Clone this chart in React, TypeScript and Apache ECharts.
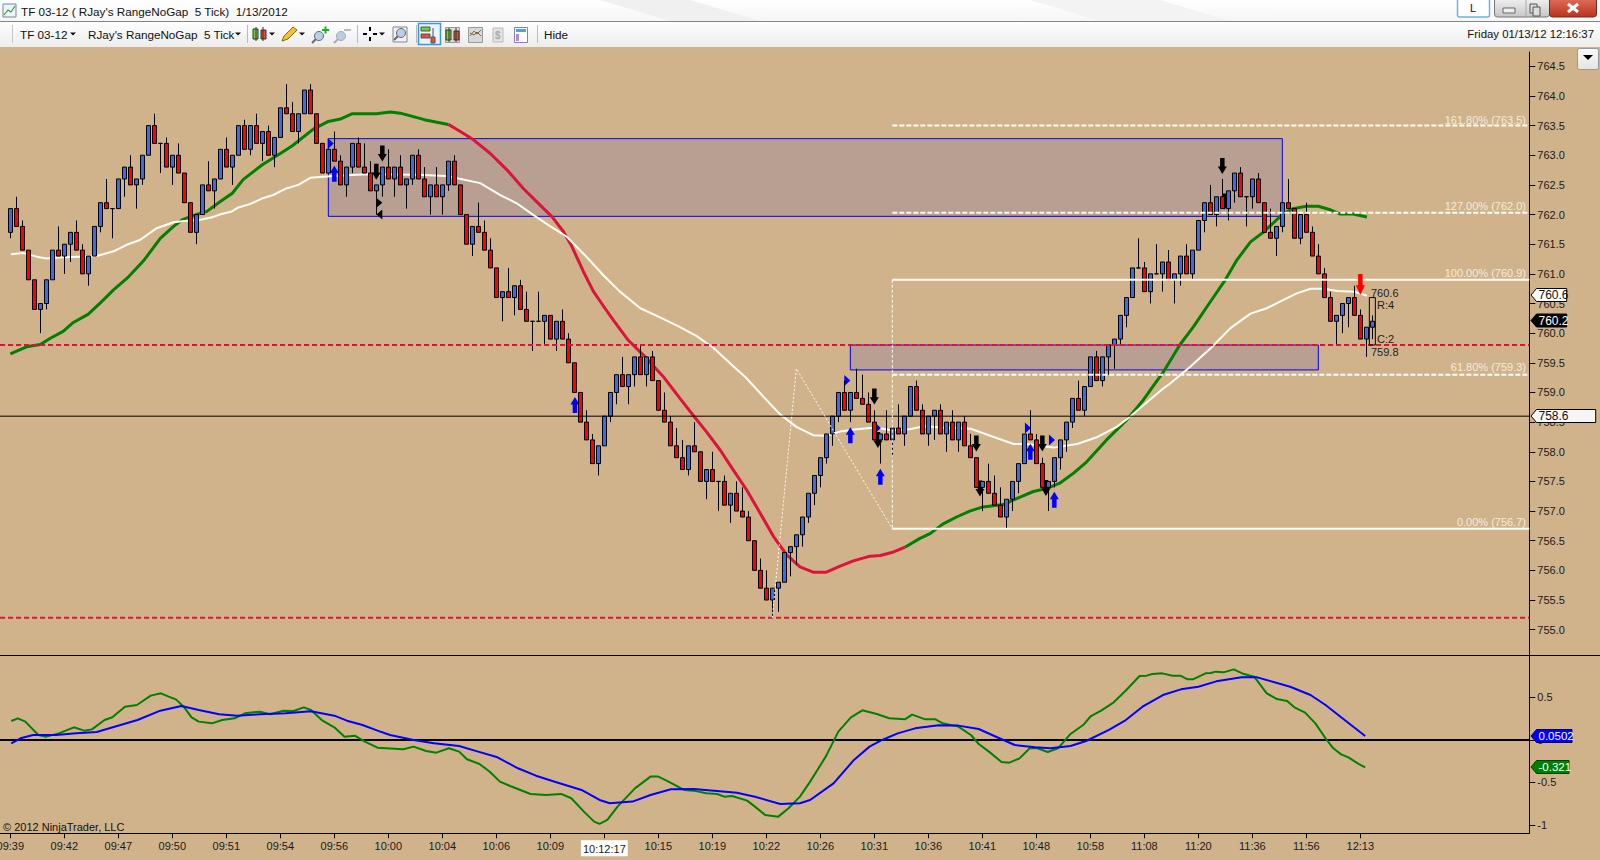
import React, { useEffect, useRef } from "react";
import * as echarts from "echarts";

const timeLabels = ["09:39","09:42","09:47","09:50","09:51","09:54","09:56","10:00","10:04","10:06","10:09","10:12:17","10:15","10:19","10:22","10:26","10:31","10:36","10:41","10:48","10:58","11:08","11:20","11:36","11:56","12:13"];
const priceTicks = [755,755.5,756,756.5,757,757.5,758,758.5,759,759.5,760,760.5,761,761.5,762,762.5,763,763.5,764,764.5];
const oscTicks = [-1,-0.5,0,0.5];

const opens = [761.7,762.1,761.8,761.4,760.9,760.4,760.5,760.9,761.4,761.3,761.5,761.7,761.4,761.0,761.3,761.8,762.2,762.1,762.1,762.6,
762.8,762.5,762.6,763.0,763.5,763.2,763.2,762.8,763.0,762.7,762.2,761.7,762.0,762.5,762.4,762.6,763.1,762.8,763.0,763.5,
763.1,763.5,763.2,763.4,763.0,763.3,763.8,763.7,763.4,763.7,764.1,763.7,763.2,762.7,763.1,762.9,762.5,762.8,763.2,762.8,
762.7,762.4,762.5,762.8,762.6,762.8,762.5,762.6,763.0,762.6,762.3,762.5,762.3,762.5,762.9,762.5,762.0,761.5,761.8,761.7,
761.4,761.1,760.6,760.7,760.6,760.8,760.4,760.2,760.2,760.2,760.3,759.9,760.2,759.9,759.5,759.0,758.5,758.2,757.8,758.1,
758.6,759.0,759.3,759.1,759.3,759.6,759.3,759.6,759.2,758.7,758.5,758.1,757.9,757.7,758.1,758.0,757.5,757.7,757.5,757.5,
757.1,757.3,757.0,756.9,756.5,756.0,755.7,755.5,755.7,755.8,756.3,756.4,756.6,756.9,757.3,757.6,757.9,758.3,758.6,759.0,
758.7,759.0,758.9,758.8,758.5,758.2,758.3,758.2,758.4,758.3,758.6,759.1,758.7,758.3,758.6,758.7,758.3,758.5,758.2,758.5,
758.1,757.9,757.4,757.5,757.3,757.1,756.9,757.2,757.5,757.8,758.3,758.2,757.8,757.4,757.5,757.9,758.2,758.5,758.9,758.7,
759.1,759.6,759.2,759.6,759.8,759.9,760.3,760.6,761.1,761.1,760.7,761.0,761.0,761.2,760.9,761.0,761.3,761.0,761.4,761.9,
762.2,762.0,762.3,762.1,762.4,762.7,762.3,762.3,762.6,762.2,761.7,761.6,761.8,762.2,762.1,761.6,762.0,761.7,761.3,761.0,
760.6,760.2,760.3,760.5,760.6,760.3,759.9,760.1];
const closes = [762.1,761.8,761.4,760.9,760.4,760.5,760.9,761.4,761.3,761.5,761.7,761.4,761.0,761.3,761.8,762.2,762.1,762.1,762.6,762.8,
762.5,762.6,763.0,763.5,763.2,763.2,762.8,763.0,762.7,762.2,761.7,762.0,762.5,762.4,762.6,763.1,762.8,763.0,763.5,763.1,
763.5,763.2,763.4,763.0,763.3,763.8,763.7,763.4,763.7,764.1,763.7,763.2,762.7,763.1,762.9,762.5,762.8,763.2,762.8,762.7,
762.4,762.5,762.8,762.6,762.8,762.5,762.6,763.0,762.6,762.3,762.5,762.3,762.5,762.9,762.5,762.0,761.5,761.8,761.7,761.4,
761.1,760.6,760.7,760.6,760.8,760.4,760.2,760.2,760.2,760.3,759.9,760.2,759.9,759.5,759.0,758.5,758.2,757.8,758.1,758.6,
759.0,759.3,759.1,759.3,759.6,759.3,759.6,759.2,758.7,758.5,758.1,757.9,757.7,758.1,758.0,757.5,757.7,757.5,757.5,757.1,
757.3,757.0,756.9,756.5,756.0,755.7,755.5,755.7,755.8,756.3,756.4,756.6,756.9,757.3,757.6,757.9,758.3,758.6,759.0,758.7,
759.0,758.9,758.8,758.5,758.2,758.3,758.2,758.4,758.3,758.6,759.1,758.7,758.3,758.6,758.7,758.3,758.5,758.2,758.5,758.1,
757.9,757.4,757.5,757.3,757.1,756.9,757.2,757.5,757.8,758.3,758.2,757.8,757.4,757.5,757.9,758.2,758.5,758.9,758.7,759.1,
759.6,759.2,759.6,759.8,759.9,760.3,760.6,761.1,761.1,760.7,761.0,761.0,761.2,760.9,761.0,761.3,761.0,761.4,761.9,762.2,
762.0,762.3,762.1,762.4,762.7,762.3,762.3,762.6,762.2,761.7,761.6,761.8,762.2,762.1,761.6,762.0,761.7,761.3,761.0,760.6,
760.2,760.3,760.5,760.6,760.3,759.9,760.1,760.2];
const lows = [761.6,761.8,761.4,760.9,760.4,760.0,760.4,760.9,761.3,761.0,761.2,761.4,761.0,760.8,761.3,761.7,762.1,761.6,762.1,762.3,
762.5,762.1,762.5,763.0,763.2,762.7,762.8,762.5,762.7,762.2,761.7,761.5,762.0,762.4,762.1,762.6,762.8,762.5,763.0,763.1,
763.0,763.2,762.9,763.0,762.8,763.3,763.7,763.4,763.2,763.7,763.7,763.2,762.7,762.7,762.9,762.5,762.3,762.7,762.8,762.7,
762.4,762.0,762.3,762.6,762.3,762.5,762.1,762.5,762.6,762.3,762.0,762.3,762.0,762.4,762.5,762.0,761.5,761.3,761.7,761.4,
761.1,760.6,760.2,760.6,760.3,760.4,760.2,759.7,760.2,759.8,759.9,759.7,759.9,759.5,759.0,758.5,758.2,757.8,757.6,758.1,
758.5,758.8,759.1,758.8,759.1,759.3,759.1,759.2,758.7,758.5,758.1,757.9,757.7,757.6,758.0,757.5,757.2,757.5,757.0,757.1,
756.8,757.0,756.9,756.5,756.0,755.7,755.5,755.2,755.3,755.8,755.9,756.1,756.4,756.8,757.1,757.4,757.8,758.1,758.5,758.7,
758.5,758.9,758.8,758.5,758.2,757.8,758.2,757.9,758.3,758.1,758.6,758.7,758.3,758.1,758.2,758.3,758.0,758.2,758.0,758.1,
757.9,757.4,757.0,757.3,757.1,756.9,756.7,757.0,757.3,757.8,758.2,757.8,757.4,757.0,757.4,757.7,758.0,758.4,758.7,758.6,
759.1,759.2,759.1,759.3,759.4,759.8,760.1,760.6,761.1,760.7,760.5,761.0,760.7,760.9,760.5,760.8,761.0,760.9,761.4,761.7,
762.0,761.8,762.1,761.9,762.2,762.3,761.8,762.1,762.2,761.7,761.6,761.3,761.7,762.1,761.6,761.5,761.7,761.3,761.0,760.6,
760.2,759.8,760.0,760.1,760.3,759.9,759.6,759.9];
const highs = [762.1,762.3,761.9,761.4,760.9,760.5,760.9,761.4,761.8,761.5,761.7,761.9,761.5,761.3,761.8,762.2,762.6,762.1,762.6,762.8,
763.0,762.6,763.0,763.5,763.7,763.2,763.3,763.0,763.2,762.7,762.2,762.0,762.5,762.9,762.6,763.1,763.3,763.0,763.5,763.6,
763.5,763.7,763.4,763.5,763.3,763.8,764.2,763.9,763.7,764.1,764.2,763.7,763.2,763.1,763.4,763.0,762.8,763.2,763.3,763.2,
762.9,762.5,762.8,763.1,762.8,763.0,762.6,763.0,763.1,762.8,762.5,762.8,762.5,762.9,763.0,762.5,762.0,761.8,762.2,761.9,
761.6,761.1,760.7,761.1,760.8,760.9,760.7,760.2,760.7,760.3,760.3,760.2,760.4,760.0,759.5,759.0,758.7,758.3,758.1,758.6,
759.0,759.3,759.6,759.3,759.6,759.8,759.6,759.7,759.2,759.0,758.6,758.4,758.2,758.1,758.5,758.0,757.7,758.0,757.5,757.6,
757.3,757.5,757.4,757.0,756.5,756.2,756.0,755.7,755.8,756.3,756.4,756.6,756.9,757.3,757.6,757.9,758.3,758.6,759.0,759.2,
759.0,759.4,759.3,759.0,758.7,758.3,758.7,758.4,758.8,758.6,759.1,759.2,758.8,758.6,758.7,758.8,758.5,758.7,758.5,758.6,
758.3,757.9,757.5,757.8,757.6,757.4,757.2,757.5,757.8,758.3,758.7,758.3,757.9,757.5,757.9,758.2,758.5,758.9,759.2,759.1,
759.6,759.7,759.6,759.8,759.9,760.3,760.6,761.1,761.6,761.2,761.0,761.5,761.2,761.4,761.0,761.3,761.5,761.4,761.9,762.2,
762.5,762.3,762.6,762.4,762.7,762.8,762.3,762.6,762.7,762.2,762.1,761.8,762.2,762.6,762.1,762.0,762.2,761.8,761.5,761.1,
760.7,760.3,760.5,760.6,760.8,760.4,760.1,760.3];

const maGreenLeft = [[0,759.65],[2.7,759.77],[5,759.81],[6.6,759.91],[8.8,760.03],[10.5,760.18],[13,760.32],[15,760.51],[17.2,760.73],[19.7,760.95],[22.2,761.22],[25,761.6],[27.2,761.8],[28.8,761.92],[31,762.0],[32.7,762.05],[35,762.22],[37,762.36],[38.8,762.59],[42,762.84],[45,763.03],[47,763.16],[50.5,763.44],[53,763.57],[55,763.61],[57,763.7],[61,763.7],[63.3,763.73],[65,763.71],[69,763.6],[73,763.52]];
const maCrimson = [[73,763.52],[75,763.4],[77.2,763.26],[80,763.03],[82.8,762.75],[85.5,762.44],[88.3,762.16],[90.3,761.96],[92.2,761.71],[93.6,761.46],[95.5,761.04],[97.2,760.7],[99.1,760.42],[100.5,760.22],[103,759.88],[105.5,759.63],[108.8,759.27],[111.6,758.9],[114,758.59],[116,758.34],[118.3,758.03],[120.5,757.69],[122.7,757.36],[125,756.96],[127.2,756.57],[129.4,756.26],[131.6,756.06],[133.8,755.97],[136,755.97],[138.3,756.07],[140.5,756.16],[143.3,756.24],[145,756.25],[147.2,756.31],[149.1,756.39]];
const maGreenRight = [[149.1,756.39],[151.6,756.54],[153.3,756.62],[155.4,756.78],[157.7,756.9],[159.9,757.0],[162.1,757.07],[165.5,757.11],[167.7,757.21],[170.5,757.33],[172.7,757.38],[174.9,757.47],[177.2,757.64],[179.4,757.83],[182.7,758.2],[186,758.53],[188.8,758.87],[192.2,759.35],[194.9,759.8],[197.2,760.11],[200,760.53],[202.5,760.9],[204.4,761.23],[206.7,761.54],[208.8,761.7],[212.2,762.02],[213.8,762.1],[216,762.14],[218,762.14],[220,762.08],[221.6,762.01],[223.8,762.01],[226.1,761.96]];
const maWhite = [[0.1,761.33],[2.2,761.35],[4.4,761.29],[6,761.26],[8.8,761.28],[11.6,761.29],[14.4,761.3],[17.2,761.38],[19.4,761.49],[21.6,761.57],[24.4,761.77],[27.2,761.87],[29,761.89],[31.6,761.91],[33.8,761.96],[35.2,762.01],[36.9,762.05],[38,762.12],[40,762.18],[42.2,762.28],[43.8,762.33],[46,762.44],[48,762.5],[50,762.62],[53.8,762.65],[59.4,762.68],[67.7,762.67],[72.7,762.65],[78.3,762.53],[81.6,762.33],[84.4,762.19],[87.2,761.99],[90,761.8],[92.7,761.63],[96,761.29],[98.8,760.98],[101.6,760.7],[105,760.42],[108,760.28],[111.3,760.12],[114.4,759.95],[117.2,759.75],[120,759.49],[122.7,759.24],[125.5,758.93],[128.3,758.63],[131,758.42],[133.8,758.28],[136,758.27],[138.3,758.34],[141,758.38],[144.3,758.41],[147,758.36],[149.9,758.38],[152.2,758.43],[155.5,758.41],[160,758.39],[163.9,758.25],[167.2,758.13],[169.4,758.13],[173.9,758.07],[177.8,758.13],[181.2,758.25],[184.4,758.42],[186.6,758.59],[188.9,758.79],[192.2,759.07],[193.3,759.15],[196.6,759.43],[200,759.74],[203.3,760.08],[206.7,760.33],[209.4,760.42],[212.2,760.56],[214.4,760.67],[216.7,760.75],[218.9,760.75],[221.2,760.71],[224,760.7],[226.1,760.63]];

const oscGreen = [[0.15,0.224],[1.26,0.255],[2.5,0.216],[4.66,0.059],[5.9,0.039],[8.06,0.078],[10.6,0.149],[12.3,0.11],[13.6,0.125],[15.7,0.235],[17,0.267],[19.1,0.392],[21.1,0.412],[23.4,0.522],[25.1,0.549],[26.4,0.51],[27.6,0.478],[28.9,0.392],[30.2,0.267],[31.4,0.216],[33.6,0.196],[35.3,0.235],[37.4,0.255],[39.1,0.314],[41.6,0.333],[43.3,0.302],[45.5,0.345],[47.2,0.341],[48.9,0.384],[50.1,0.353],[51.9,0.235],[54,0.149],[55.7,0.039],[57.4,0.051],[59.1,-0.02],[61.2,-0.09],[65.5,-0.11],[67.2,-0.078],[69.3,-0.129],[71,-0.149],[73.1,-0.098],[74.8,-0.137],[76.1,-0.227],[78.2,-0.282],[79.9,-0.373],[81.6,-0.49],[83.3,-0.541],[86.7,-0.635],[89.3,-0.647],[91.8,-0.635],[93.5,-0.686],[95.6,-0.843],[97.3,-0.961],[98.2,-0.988],[99.5,-0.941],[101.2,-0.784],[104.1,-0.569],[106.7,-0.431],[108,-0.431],[109.7,-0.49],[112.3,-0.588],[113.9,-0.596],[116,-0.627],[117.8,-0.635],[119,-0.667],[120.3,-0.659],[122.8,-0.714],[124.1,-0.784],[125.8,-0.882],[128,-0.902],[129.7,-0.804],[131.6,-0.667],[133.3,-0.49],[135.9,-0.196],[138,0.098],[140.1,0.267],[142,0.349],[144.4,0.306],[146.5,0.255],[149.1,0.243],[150.3,0.298],[152.5,0.243],[154.2,0.243],[155.4,0.196],[158,0.157],[160.1,0.059],[161.4,-0.047],[163.1,-0.137],[165.2,-0.259],[166.5,-0.267],[168.2,-0.216],[169.9,-0.098],[171.2,-0.098],[172.9,-0.141],[174.6,-0.098],[176.7,0.071],[178.8,0.176],[180.1,0.282],[181.8,0.345],[183.9,0.443],[186,0.588],[188.2,0.753],[189.4,0.757],[190.3,0.776],[192,0.784],[193.7,0.757],[195,0.757],[196.2,0.714],[197.1,0.714],[199.2,0.784],[200.1,0.788],[200.9,0.804],[202.2,0.796],[203.9,0.831],[205.6,0.776],[207.3,0.745],[209.4,0.549],[211.1,0.482],[212.8,0.459],[214.1,0.38],[215.8,0.322],[217.5,0.196],[219.2,0.02],[220.5,-0.098],[221.8,-0.169],[223,-0.204],[224.7,-0.282],[225.8,-0.322]];
const oscBlue = [[0.15,-0.039],[1.7,0.02],[3.8,0.059],[7.6,0.059],[11,0.078],[14.4,0.094],[17.8,0.165],[21.2,0.235],[25,0.345],[28.5,0.4],[31.4,0.353],[34.8,0.302],[37.8,0.286],[41.6,0.302],[45.9,0.314],[50.1,0.337],[54,0.286],[56.1,0.227],[58.7,0.176],[61.2,0.11],[63.3,0.059],[67.2,0],[70.6,-0.039],[74.8,-0.071],[77.4,-0.125],[81.2,-0.204],[84.6,-0.333],[87.6,-0.42],[91,-0.498],[95.2,-0.588],[98.2,-0.706],[99.9,-0.745],[103.7,-0.725],[106.7,-0.647],[110.1,-0.58],[113.9,-0.576],[117.3,-0.596],[121.1,-0.62],[124.1,-0.667],[128.3,-0.753],[131.6,-0.745],[133.3,-0.706],[137.2,-0.51],[140.6,-0.235],[143.2,-0.078],[145.3,0],[147.9,0.078],[150.8,0.137],[154.7,0.173],[158,0.169],[161.4,0.129],[164,0.047],[167.4,-0.059],[170.8,-0.086],[173.3,-0.098],[176.7,-0.071],[179.3,-0.012],[183.1,0.118],[185.7,0.224],[188.7,0.392],[192.1,0.529],[195.1,0.596],[198,0.627],[201,0.69],[205.2,0.737],[207.8,0.737],[213.3,0.627],[216.7,0.529],[219.2,0.412],[221.8,0.267],[225.8,0.047]];

const blueUpArrows = [[54,762.69],[94.1,758.79],[140,758.28],[145,757.58],[170,758.0],[174,757.19]];
const blackDownArrows = [[62,763.03],[61,762.72],[144,758.93],[144.6,758.2],[161,758.14],[172,758.14],[161.6,757.38],[172.6,757.39],[202,762.82],[202.4,762.22]];
const redDownArrows = [[225,760.82]];
const blueRightMarks = [[53.4,763.2],[139.5,759.2],[144.6,758.4],[169.6,758.4],[173.6,758.2]];
const blackRightMarks = [[61.5,762.2]];
const blackLeftMarks = [[61.5,762.0]];

const zones = [[53,763.28,212,761.97],[140,759.8,218,759.38]];
const rangeGhost = [226.5,760.6,227.5,759.8];
const supportLevels = [759.8,755.2];
const crosshairPrice = 758.6;
const fibStart = 147;
const fibSolid = [760.9,756.7];
const fibDashed = [763.5,762.03,759.3];
const fibZigzag = [[127,755.2],[131,759.4],[147,756.7]];

const FONT = "Liberation Sans";
const BG = "#D1B38B";
const X_MIN = -1.7217;
const X_MAX = 253.16;

const lineSeries = (name: string, data: any, color: string, width: number, z: number, extra: any = {}, axis = 0) => ({
  name, type: "line", data, xAxisIndex: axis, yAxisIndex: axis, z, showSymbol: false, symbol: "none", silent: true,
  lineStyle: { color, width, ...(extra.lineStyle || {}) }, smooth: extra.smooth ?? false,
});

const UP_ARROW = "path://M5,0 L10,7 L7.5,7 L7.5,15 L2.5,15 L2.5,7 L0,7 Z";
const DOWN_ARROW = "path://M2.5,0 L7.5,0 L7.5,8 L10,8 L5,15 L0,8 L2.5,8 Z";
const RIGHT_MARK = "path://M0,0 L8,5 L0,10 Z";
const LEFT_MARK = "path://M8,0 L0,5 L8,10 Z";

const marks = (name: string, data: number[][], symbol: string, size: number[], color: string, z = 3) => ({
  name, type: "scatter", data, symbol, symbolSize: size, itemStyle: { color, opacity: 1 }, z, silent: true, xAxisIndex: 0, yAxisIndex: 0,
});

const txt = (text: string, x: number, y: number, size = 11, fill = "#111", align = "left", weight = "normal") => ({
  type: "text", x, y, z: 20, silent: true,
  style: { text, fill, fontFamily: FONT, fontSize: size, fontWeight: weight, align, verticalAlign: "middle" },
});
const box = (x: number, y: number, w: number, h: number, fill: any, stroke?: string, lw = 1, r = 0) => ({
  type: "rect", z: 18, silent: true, shape: { x, y, width: w, height: h, r },
  style: { fill, stroke: stroke ?? "none", lineWidth: lw },
});
const seg = (x1: number, y1: number, x2: number, y2: number, stroke: string, lw = 1) => ({
  type: "line", z: 19, silent: true, shape: { x1, y1, x2, y2 }, style: { stroke, lineWidth: lw },
});
const tri = (cx: number, cy: number, s = 3, fill = "#111") => ({
  type: "polygon", z: 19, silent: true, shape: { points: [[cx - s, cy - 1.5], [cx + s, cy - 1.5], [cx, cy + 1.5]] }, style: { fill },
});
const tag = (label: string, y: number, right: number, fill: string, textFill: string, stroke: string, size = 12) => ([
  {
    type: "polygon", z: 22, silent: true,
    shape: { points: [[1531, y], [1536.5, y - 6.5], [right, y - 6.5], [right, y + 6.5], [1536.5, y + 6.5]] },
    style: { fill, stroke, lineWidth: 1 },
  },
  { ...txt(label, 1538.5, y, size, textFill), z: 23 },
]);
const vGrad = (a: string, b: string) => new echarts.graphic.LinearGradient(0, 0, 0, 1, [{ offset: 0, color: a }, { offset: 1, color: b }]);

const candleIcon = (x: number, y: number) => ([
  seg(x + 3, y, x + 3, y + 14, "#333"), box(x, y + 2, 5, 10, "#6fd13c", "#333"),
  seg(x + 10, y, x + 10, y + 14, "#333"), box(x + 8, y + 3, 5, 9, "#e2503c", "#333"),
]);
const magnifier = (cx: number, cy: number, color: string) => ([
  seg(cx - 3, cy + 3, cx - 7, cy + 7, color, 2),
  { type: "circle", z: 19, silent: true, shape: { cx, cy, r: 4.5 }, style: { fill: "#b8cfe6", stroke: color, lineWidth: 1 } },
]);

function chromeGraphics() {
  return [
    box(0, 0, 1600, 21, vGrad("#ffffff", "#f6f6f6")),
    { type: "polygon", z: 18, silent: true, shape: { points: [[600, 0], [690, 0], [760, 21], [670, 21]] }, style: { fill: "#f0f0f0" } },
    { type: "polygon", z: 18, silent: true, shape: { points: [[1030, 0], [1160, 0], [1230, 21], [1100, 21]] }, style: { fill: "#f3f3f3" } },
    box(0, 21, 1600, 1, "#858585"),
    box(0, 22, 1600, 25, vGrad("#ffffff", "#ececec")),
    box(3, 4, 13, 13, "#eef4fb", "#6c8aa8"),
    { type: "polyline", z: 19, silent: true, shape: { points: [[4, 15], [8, 10], [11, 12], [15, 6]] }, style: { stroke: "#2e9e3c", fill: "none", lineWidth: 1.2 } },
    txt("TF 03-12 ( RJay's RangeNoGap  5 Tick)  1/13/2012", 21, 11, 11.7),
    seg(12.5, 25, 12.5, 43, "#c8c8c8"),
    txt("TF 03-12", 20, 34, 11.7), tri(73, 34),
    txt("RJay's RangeNoGap  5 Tick", 88, 34, 11.7), tri(238, 34),
    seg(247.5, 25, 247.5, 43, "#bbb"),
    ...candleIcon(253, 27), tri(272, 34),
    { type: "polygon", z: 19, silent: true, shape: { points: [[282, 41], [284, 36], [293, 27], [297, 30], [288, 39]] }, style: { fill: "#f2c230", stroke: "#8a6a10", lineWidth: 1 } },
    tri(302, 34),
    ...magnifier(319, 36, "#667"),
    box(322, 29, 7, 2, "#1fae2a"), box(324.5, 26.5, 2, 7, "#1fae2a"),
    ...magnifier(341, 36, "#aaa"),
    box(344, 29, 7, 2, "#bbb"),
    seg(357.5, 25, 357.5, 43, "#bbb"),
    seg(363, 34, 367, 34, "#000", 2), seg(373, 34, 377, 34, "#000", 2), seg(370, 27, 370, 31, "#000", 2), seg(370, 37, 370, 41, "#000", 2),
    tri(382, 34),
    box(393, 27, 14, 15, "#f1f1f1", "#888"),
    ...magnifier(401, 33, "#667"),
    seg(416.5, 25, 416.5, 43, "#bbb"),
    box(418.5, 23.5, 22, 21, "#eaf3fb", "#3c96dc", 1.5),
    box(421, 27, 9, 4, "#6fd13c", "#555"), box(421, 34, 9, 4, "#e2503c", "#555"),
    box(431, 37, 4, 6, "#e2503c", "#555"), seg(433, 28, 433, 37, "#555"),
    box(445.5, 27.5, 14, 15, "#dcdcdc", "#999"), ...candleIcon(446, 28),
    box(468.5, 27.5, 14, 15, "#d8d8d8", "#999"),
    { type: "polyline", z: 19, silent: true, shape: { points: [[470, 36], [474, 31], [477, 34], [481, 30]] }, style: { stroke: "#2e9e3c", fill: "none" } },
    { type: "polyline", z: 19, silent: true, shape: { points: [[470, 33], [474, 35], [477, 32], [481, 36]] }, style: { stroke: "#d04040", fill: "none" } },
    box(493, 28, 10, 14, "#e3e3e3", "#bbb"),
    txt("$", 495, 35, 10, "#aaa", "left", "bold"),
    box(514.5, 27.5, 13, 15, "#ffffff", "#8a78c8"),
    box(516, 29, 10, 3, "#4fa3dd"), box(516, 34, 3, 7, "#b088e0"),
    seg(537.5, 25, 537.5, 43, "#bbb"),
    txt("Hide", 544, 34, 11.7),
    txt("Friday 01/13/12 12:16:37", 1594, 34, 11.4, "#111", "right"),
    box(1457.5, -2, 32, 19, "#ffffff", "#6db5de", 1.5, 2),
    txt("L", 1473, 8, 11, "#111", "center"),
    box(1494.5, -2, 55, 19, vGrad("#f2f2f2", "#c6c6c6"), "#777", 1, 3),
    box(1503, 8, 12, 5, "#eee", "#666"),
    box(1530, 4, 7, 9, "#ddd", "#555"), box(1533, 7, 7, 9, "#ddd", "#555"),
    seg(1526, -1, 1526, 17, "#aaa"),
    box(1549.5, -2, 47, 19, vGrad("#e0705c", "#b8321e"), "#7a2a1e", 1, 3),
    seg(1568, 4, 1578, 12, "#fff", 3), seg(1578, 4, 1568, 12, "#fff", 3),
    box(1577.5, 48.5, 21, 21, vGrad("#fafafa", "#e4e4e4"), "#999", 1, 2),
    { type: "polygon", z: 19, silent: true, shape: { points: [[1583, 55], [1593, 55], [1588, 60]] }, style: { fill: "#000" } },
    { ...seg(0, 655.5, 1600, 655.5, "#000", 1), z: 5 },
    { ...txt("© 2012 NinjaTrader, LLC", 3, 827, 11), z: 6 },
    { ...txt("161.80% (763.5)", 1526, 119.5, 11, "#f2ebdc", "right"), z: 6 },
    { ...txt("127.00% (762.0)", 1526, 205.5, 11, "#f2ebdc", "right"), z: 6 },
    { ...txt("100.00% (760.9)", 1526, 272.5, 11, "#f2ebdc", "right"), z: 6 },
    { ...txt("61.80% (759.3)", 1526, 367, 11, "#f2ebdc", "right"), z: 6 },
    { ...txt("0.00% (756.7)", 1526, 521.5, 11, "#f2ebdc", "right"), z: 6 },
    { ...txt("760.6", 1371, 292.5, 11, "#222"), z: 6 },
    { ...txt("R:4", 1377, 305, 11, "#222"), z: 6 },
    { ...txt("C:2", 1377, 339, 11, "#222"), z: 6 },
    { ...txt("759.8", 1371, 352, 11, "#222"), z: 6 },
    ...tag("760.6", 295, 1566.7, "#ffffff", "#111", "#000"),
    ...tag("760.2", 320.5, 1566.7, "#000000", "#ffffff", "#000"),
    ...tag("758.6", 416, 1595.7, "#f6f6f6", "#111", "#000"),
    ...tag("0.0502", 736, 1572, "#0000ff", "#ffffff", "#000060", 11.5),
    ...tag("-0.321", 767, 1569, "#008000", "#ffffff", "#004000", 11.5),
  ];
}

function buildOption() {
  const candleData = opens.map((o, i) => [i, o, closes[i], lows[i], highs[i]]);
  const hLine = (p: number) => [[X_MIN, p], [X_MAX, p]];
  const fibLine = (p: number) => [[fibStart, p], [X_MAX, p]];
  const tickValues = timeLabels.map((_, i) => i * 9);
  const series: any[] = [
    {
      name: "zones", type: "line", data: [], xAxisIndex: 0, yAxisIndex: 0, z: 1, silent: true,
      markArea: {
        silent: true, z: 1,
        itemStyle: { color: "rgba(0,0,200,0.115)", borderColor: "#0000ff", borderWidth: 1 },
        data: zones.map((b) => [{ coord: [b[0], b[1]] }, { coord: [b[2], b[3]] }]),
      },
    },
    lineSeries("MA up left", maGreenLeft, "#008000", 3, 2),
    lineSeries("MA down", maCrimson, "#DC143C", 3, 2),
    lineSeries("MA up right", maGreenRight, "#008000", 3, 2),
    lineSeries("MA slow", maWhite, "#FFFDF6", 2, 2),
    marks("buy", blueUpArrows, UP_ARROW, [9, 16], "#0000ff"),
    marks("sell", blackDownArrows, DOWN_ARROW, [9, 16], "#000000"),
    marks("exit", redDownArrows, DOWN_ARROW, [9, 21], "#ff0000", 7),
    marks("blue mark", blueRightMarks, RIGHT_MARK, [6, 11], "#0000ff"),
    marks("black mark right", blackRightMarks, RIGHT_MARK, [6, 10], "#000000"),
    marks("black mark left", blackLeftMarks, LEFT_MARK, [6, 10], "#000000"),
    {
      name: "TF 03-12", type: "candlestick", data: candleData, xAxisIndex: 0, yAxisIndex: 0, z: 4, silent: true, barWidth: 4,
      itemStyle: { color: "#4169E1", color0: "#FF0000", borderColor: "#000", borderColor0: "#000", borderColorDoji: "#000", borderWidth: 1 },
    },
    ...supportLevels.map((p, i) => lineSeries("level " + i, hLine(p), "#DC143C", 2, 5, { lineStyle: { type: [5, 3] } })),
    lineSeries("crosshair", hLine(crosshairPrice), "#000000", 1, 5),
    ...fibSolid.map((p, i) => lineSeries("fib solid " + i, fibLine(p), "#FDFDF5", 2, 6)),
    ...fibDashed.map((p, i) => lineSeries("fib dashed " + i, fibLine(p), "#FDFDF5", 2, 6, { lineStyle: { type: [5, 2] } })),
    lineSeries("fib edge", [[fibStart, fibSolid[0]], [fibStart, fibSolid[1]]], "#FDFDF5", 1, 6, { lineStyle: { type: [3, 2] } }),
    lineSeries("fib zigzag", fibZigzag, "#FDFDF5", 1, 6, { lineStyle: { type: [2, 2] } }),
    {
      name: "range", type: "line", data: [], xAxisIndex: 0, yAxisIndex: 0, z: 6, silent: true,
      markArea: {
        silent: true, z: 6,
        itemStyle: { color: "rgba(0,0,0,0)", borderColor: "#000", borderWidth: 1 },
        data: [[{ coord: [rangeGhost[0], rangeGhost[1]] }, { coord: [rangeGhost[2], rangeGhost[3]] }]],
      },
    },
    lineSeries("zero", hLine(0), "#000000", 2, 2, {}, 1),
    lineSeries("osc", oscGreen, "#008000", 2, 3, {}, 1),
    lineSeries("signal", oscBlue, "#0000ff", 2, 3, {}, 1),
  ];

  const labelStyle = { color: "#1a1a1a", fontFamily: FONT, fontSize: 11 };
  return {
    animation: false,
    backgroundColor: BG,
    grid: [
      { left: 0, top: 52, width: 1529.3, height: 603, containLabel: false, outerBoundsMode: "none" },
      { left: 0, top: 655.3, width: 1529.3, height: 178, containLabel: false, outerBoundsMode: "none" },
    ],
    xAxis: [
      { type: "value", gridIndex: 0, min: X_MIN, max: X_MAX, show: false, splitLine: { show: false } },
      {
        type: "value", gridIndex: 1, min: X_MIN, max: X_MAX, splitLine: { show: false },
        axisLine: { show: true, onZero: false, lineStyle: { color: "#000", width: 1 } },
        axisTick: { show: true, length: 5, customValues: tickValues, lineStyle: { color: "#000" } },
        axisLabel: {
          ...labelStyle, margin: 7, customValues: tickValues, hideOverlap: false, showMinLabel: true, showMaxLabel: true,
          formatter: (v: number) => {
            const s = timeLabels[Math.round(v / 9)] ?? "";
            return s.length > 5 ? `{hl|${s}}` : s;
          },
          rich: { hl: { backgroundColor: "#fff", padding: [3, 2, 2, 2], color: "#1a1a1a", fontFamily: FONT, fontSize: 11 } },
        },
      },
    ],
    yAxis: [
      {
        type: "value", gridIndex: 0, position: "right", min: 754.573, max: 764.741, splitLine: { show: false },
        axisLine: { show: true, onZero: false, lineStyle: { color: "#000", width: 1 } },
        axisTick: { show: true, length: 6, customValues: priceTicks, lineStyle: { color: "#000" } },
        axisLabel: { ...labelStyle, margin: 8, padding: [2, 0, 0, 0], customValues: priceTicks, formatter: (v: number) => v.toFixed(1) },
      },
      {
        type: "value", gridIndex: 1, position: "right", min: -1.098, max: 0.9965, splitLine: { show: false },
        axisLine: { show: true, onZero: false, lineStyle: { color: "#000", width: 1 } },
        axisTick: { show: true, length: 6, customValues: oscTicks, lineStyle: { color: "#000" } },
        axisLabel: { ...labelStyle, margin: 8, padding: [3, 0, 0, 0], customValues: oscTicks, formatter: (v: number) => String(v) },
      },
    ],
    graphic: { elements: chromeGraphics() },
    series,
  };
}

export default function App() {
  const ref = useRef<HTMLDivElement>(null);
  useEffect(() => {
    document.body.style.margin = "0";
    const chart = echarts.init(ref.current!, undefined, { renderer: "svg" });
    chart.setOption(buildOption() as any);
    return () => chart.dispose();
  }, []);
  return <div ref={ref} style={{ width: 1600, height: 860, position: "absolute", left: 0, top: 0, overflow: "hidden" }} />;
}
